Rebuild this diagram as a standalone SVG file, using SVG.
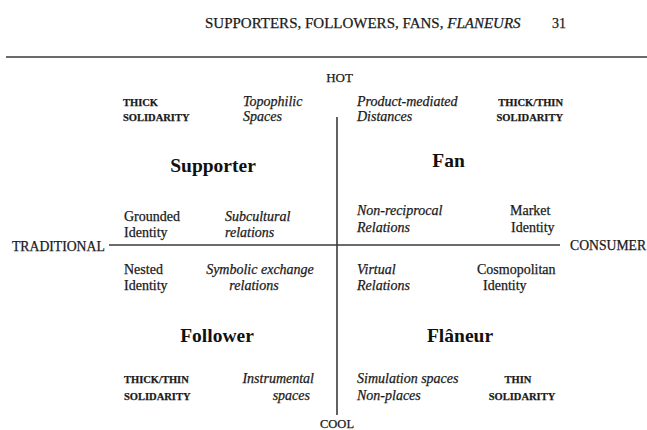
<svg xmlns="http://www.w3.org/2000/svg" width="647" height="430" viewBox="0 0 647 430">
<style>
text { font-family: "Liberation Serif", "Times New Roman", serif; fill: #1a1a1a; stroke: #1a1a1a; stroke-width: 0.25; }
.hdr { font-size: 15px; }
.axis { font-size: 13.7px; }
.body { font-size: 14px; }
.it { font-size: 14px; font-style: italic; }
.caps { font-size: 10.5px; font-weight: bold; }
.title { font-size: 19.5px; font-weight: bold; text-anchor: middle; fill: #111; stroke: none; }
.mid { text-anchor: middle; }
.end { text-anchor: end; }
.ln { stroke: #3a3a3a; stroke-width: 1.6; fill: none; }
</style>
<rect width="647" height="430" fill="#fff"/>
<g id="header">
<text class="hdr" x="205" y="28">SUPPORTERS, FOLLOWERS, FANS, <tspan font-style="italic">FLANEURS</tspan></text>
<text x="552" y="28" font-size="14">31</text>
</g>
<g id="connectors">
<line class="ln" x1="6" y1="57" x2="647" y2="57"/>
<line class="ln" x1="109" y1="245" x2="560" y2="245"/>
<line class="ln" x1="337" y1="117" x2="337" y2="415"/>
</g>
<g id="axis-labels">
<text class="mid" x="339.5" y="82" font-size="13">HOT</text>
<text class="mid" x="337" y="428" font-size="12.5">COOL</text>
<text class="axis" x="12" y="251">TRADITIONAL</text>
<text class="axis" x="570" y="250">CONSUMER</text>
</g>
<g id="supporter">
<text class="caps" x="123" y="106">THICK</text>
<text class="caps" x="123" y="121">SOLIDARITY</text>
<text class="it" x="243" y="106">Topophilic</text>
<text class="it" x="243" y="121">Spaces</text>
<text class="title" x="213" y="172">Supporter</text>
<text class="body" x="124" y="221">Grounded</text>
<text class="body" x="124" y="237">Identity</text>
<text class="it" x="225" y="221">Subcultural</text>
<text class="it" x="225" y="237">relations</text>
</g>
<g id="fan">
<text class="it" x="357" y="106">Product-mediated</text>
<text class="it" x="357" y="121">Distances</text>
<text class="caps end" x="563" y="106">THICK/THIN</text>
<text class="caps end" x="563" y="121">SOLIDARITY</text>
<text class="title" x="448.5" y="167">Fan</text>
<text class="it" x="357" y="215">Non-reciprocal</text>
<text class="it" x="357" y="232">Relations</text>
<text class="body" x="510" y="215">Market</text>
<text class="body" x="511" y="232">Identity</text>
</g>
<g id="follower">
<text class="body" x="124" y="274">Nested</text>
<text class="body" x="124" y="290">Identity</text>
<text class="it mid" x="260" y="274">Symbolic exchange</text>
<text class="it mid" x="254" y="290">relations</text>
<text class="title" x="217" y="342">Follower</text>
<text class="caps" x="124" y="383">THICK/THIN</text>
<text class="caps" x="124" y="400">SOLIDARITY</text>
<text class="it end" x="314" y="383">Instrumental</text>
<text class="it end" x="310" y="400">spaces</text>
</g>
<g id="flaneur">
<text class="it" x="357" y="274">Virtual</text>
<text class="it" x="357" y="290">Relations</text>
<text class="body" x="477" y="274">Cosmopolitan</text>
<text class="body" x="483" y="290">Identity</text>
<text class="title" x="460" y="342">Flâneur</text>
<text class="it" x="357" y="383">Simulation spaces</text>
<text class="it" x="357" y="400">Non-places</text>
<text class="caps mid" x="518" y="383">THIN</text>
<text class="caps mid" x="522" y="400">SOLIDARITY</text>
</g>
</svg>
